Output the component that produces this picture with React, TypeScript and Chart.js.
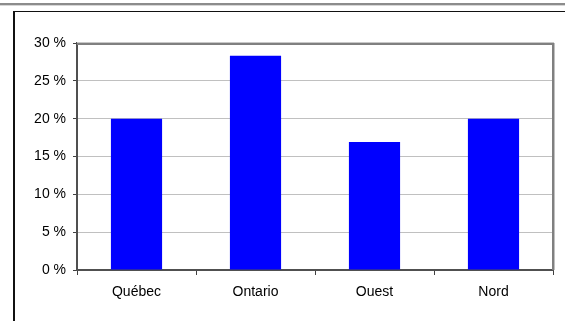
import React, { useEffect, useRef } from "react";
import { Chart, registerables } from "chart.js";

Chart.register(...registerables);

// Share by region, in percent
const regions = ["Québec", "Ontario", "Ouest", "Nord"];
const shares = [20.0, 28.3, 16.9, 20.0];
const yMin = 0;
const yMax = 30;
const yStep = 5;

const FONT = "'Liberation Sans', Arial, Helvetica, sans-serif";

// Page rules, outer frame and the shaded plot border
const framePlugin = {
  id: "frame",
  beforeDraw(chart: any) {
    const { ctx, width, height } = chart;
    ctx.save();
    ctx.fillStyle = "#ffffff";
    ctx.fillRect(0, 0, width, height);
    ctx.fillStyle = "#8c8c8c";
    ctx.fillRect(0, 3, width, 2);
    ctx.fillStyle = "#d6d6d6";
    ctx.fillRect(0, 5, width, 1);
    ctx.fillStyle = "#111111";
    ctx.fillRect(14, 11, width - 14, 1);
    ctx.fillRect(13, 11, 2, height - 11);
    ctx.restore();
  },
  afterDraw(chart: any) {
    const { ctx, chartArea } = chart;
    const { left, top, right, bottom } = chartArea;
    ctx.save();
    ctx.fillStyle = "#c8c8c8";
    ctx.fillRect(left, top - 1, right - left + 1, 1);
    ctx.fillStyle = "#808080";
    ctx.fillRect(left, top, right - left + 1, 2);
    ctx.fillRect(right - 1, top, 2, bottom - top);
    ctx.fillStyle = "#c0c0c0";
    ctx.fillRect(right + 1, top, 1, bottom - top);
    ctx.restore();
  },
};

export default function App() {
  const canvasRef = useRef<HTMLCanvasElement | null>(null);

  useEffect(() => {
    const canvas = canvasRef.current;
    if (!canvas) return;
    const chart = new Chart(canvas, {
      type: "bar",
      data: {
        labels: regions,
        datasets: [
          {
            data: shares,
            backgroundColor: "#0000ff",
            borderWidth: 0,
            barPercentage: 0.43,
            categoryPercentage: 1,
          },
        ],
      },
      options: {
        animation: false,
        responsive: false,
        maintainAspectRatio: false,
        layout: { padding: { top: 43, right: 12, left: 0, bottom: 0 } },
        plugins: {
          legend: { display: false },
          tooltip: { enabled: false },
          title: { display: false },
        },
        scales: {
          x: {
            afterFit: (scale: any) => {
              scale.height = 51;
            },
            grid: {
              offset: true,
              drawOnChartArea: false,
              tickLength: 5,
              tickColor: "#404040",
              tickWidth: 1,
            },
            border: { color: "#505050", width: 2 },
            ticks: {
              color: "#000000",
              font: { family: FONT, size: 14 },
              padding: 9,
              maxRotation: 0,
            },
          },
          y: {
            min: yMin,
            max: yMax,
            afterFit: (scale: any) => {
              scale.width = 77;
            },
            grid: {
              color: "#c0c0c0",
              lineWidth: 1,
              tickLength: 4,
              tickColor: "#404040",
              tickWidth: 1,
            },
            border: { color: "#505050", width: 2 },
            ticks: {
              stepSize: yStep,
              color: "#000000",
              font: { family: FONT, size: 14 },
              padding: 7,
              callback: (v: any) => `${v} %`,
            },
          },
        },
      },
      plugins: [framePlugin],
    });
    return () => chart.destroy();
  }, []);

  return (
    <div style={{ position: "absolute", left: 0, top: 0, width: 565, height: 321, background: "#fff" }}>
      <canvas ref={canvasRef} width={565} height={321} style={{ display: "block" }} />
    </div>
  );
}
